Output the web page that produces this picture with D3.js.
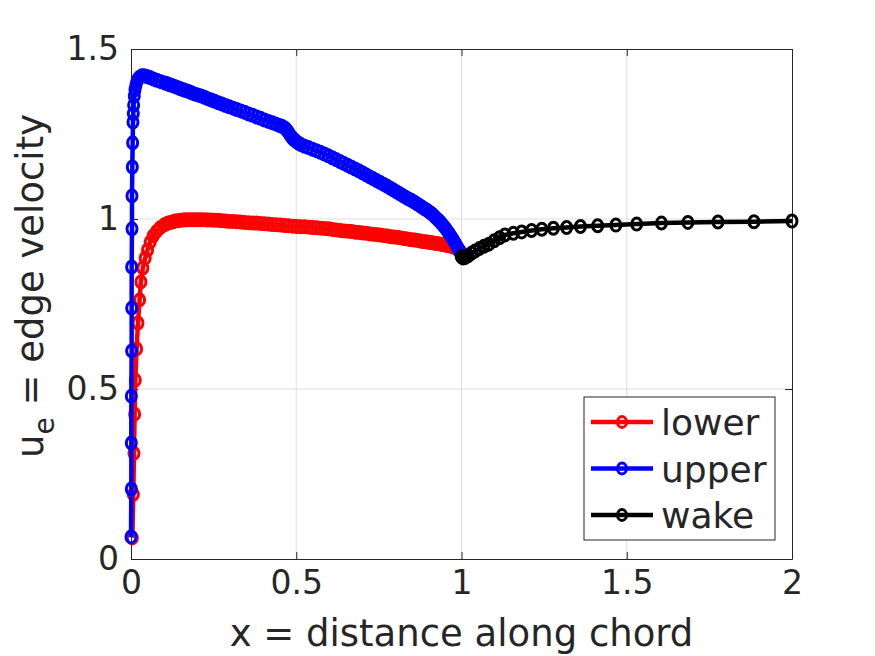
<html>
<head>
<script src="https://d3js.org/d3.v7.min.js"></script>
<style>
  body { margin: 0; background: #fff; }
  text { font-family: "DejaVu Sans", sans-serif; fill: #262626; }
</style>
</head>
<body>
<svg id="chart" width="875" height="656"></svg>
<script>
// lower surface
var lowerX = [0.004,0.007,0.009,0.011,0.013,0.017,0.021,0.026,0.030,0.036,0.043,0.050,0.058,0.067,0.077,0.088,
    0.100,0.106,0.113,0.120,0.127,0.134,0.142,0.150,0.158,0.166,0.175,0.184,0.193,0.202,0.212,0.222,0.232,0.242,0.253,0.264,
    0.275,0.286,0.297,0.308,0.320,0.331,0.343,0.355,0.367,0.379,0.391,0.403,0.415,0.427,0.440,0.452,0.464,0.476,0.489,0.501,
    0.513,0.525,0.538,0.550,0.562,0.574,0.586,0.598,0.610,0.622,0.634,0.645,0.657,0.668,0.680,0.691,0.702,0.713,0.724,0.734,
    0.745,0.755,0.766,0.776,0.786,0.795,0.805,0.814,0.824,0.833,0.842,0.850,0.859,0.867,0.875,0.883,0.890,0.898,0.905,0.911,
    0.918,0.925,0.931,0.937,0.943,0.948,0.954,0.959,0.964,0.969,0.973,0.977,0.981,0.985,0.988,0.991,0.993,0.995,0.997,0.999,1.000];
var lowerU = [0.062,0.190,0.311,0.426,0.526,0.618,0.694,0.762,0.815,0.856,0.885,0.909,0.932,0.950,0.963,0.974,
    0.982,0.985,0.988,0.990,0.992,0.994,0.995,0.996,0.997,0.998,0.998,0.998,0.998,0.998,0.998,0.998,0.997,0.997,0.996,0.996,
    0.995,0.994,0.993,0.993,0.992,0.991,0.990,0.989,0.988,0.988,0.987,0.986,0.985,0.984,0.983,0.982,0.981,0.980,0.979,0.978,
    0.977,0.977,0.976,0.975,0.974,0.973,0.972,0.971,0.969,0.968,0.966,0.965,0.964,0.963,0.961,0.960,0.959,0.958,0.956,0.955,
    0.954,0.953,0.951,0.950,0.948,0.947,0.946,0.945,0.943,0.942,0.940,0.939,0.938,0.937,0.935,0.934,0.933,0.932,0.931,0.930,
    0.929,0.928,0.927,0.926,0.925,0.924,0.923,0.922,0.921,0.920,0.919,0.918,0.916,0.914,0.912,0.910,0.908,0.906,0.903,0.900,0.898];

// upper surface
var upperX = [0.000,0.001,0.001,0.001,0.002,0.002,0.002,0.003,0.003,0.004,0.005,0.006,0.007,0.008,0.010,0.012,0.015,0.018,
    0.022,0.027,0.033,0.040,0.048,0.057,0.067,0.078,0.090,
    0.103,0.110,0.117,0.124,0.132,0.140,0.148,0.156,0.165,0.174,0.183,0.192,0.202,0.212,0.222,0.232,0.243,0.253,0.264,0.275,
    0.286,0.297,0.309,0.320,0.332,0.344,0.356,0.368,0.380,0.392,0.404,0.416,0.428,0.439,0.450,0.458,0.465,0.470,0.474,0.478,
    0.482,0.486,0.490,0.495,0.500,0.507,0.514,0.525,0.537,0.549,0.561,0.573,0.585,0.597,0.609,0.620,0.632,0.643,0.655,0.666,
    0.678,0.689,0.700,0.711,0.722,0.732,0.743,0.753,0.764,0.774,0.784,0.793,0.803,0.812,0.822,0.831,0.840,0.848,0.857,0.865,
    0.873,0.880,0.888,0.895,0.902,0.909,0.916,0.922,0.929,0.935,0.941,0.946,0.952,0.957,0.962,0.966,0.971,0.975,0.979,0.983,
    0.986,0.989,0.992,0.995,0.997,0.999,1.000];
var upperU = [0.065,0.206,0.341,0.479,0.612,0.738,0.859,0.971,1.068,1.153,1.224,1.285,1.310,1.335,1.362,1.380,1.394,1.405,
    1.413,1.418,1.421,1.421,1.419,1.416,1.412,1.408,1.404,
    1.400,1.398,1.395,1.393,1.390,1.387,1.384,1.381,1.378,1.375,1.371,1.368,1.365,1.362,1.358,1.354,1.350,1.346,1.342,1.338,
    1.334,1.330,1.326,1.322,1.318,1.314,1.309,1.305,1.300,1.296,1.291,1.287,1.283,1.279,1.275,1.272,1.268,1.263,1.258,1.252,
    1.246,1.241,1.236,1.232,1.228,1.223,1.219,1.214,1.210,1.205,1.201,1.196,1.191,1.186,1.180,1.175,1.169,1.164,1.158,1.153,
    1.147,1.142,1.136,1.130,1.124,1.119,1.113,1.108,1.102,1.097,1.091,1.086,1.080,1.075,1.069,1.064,1.059,1.055,1.050,1.045,
    1.040,1.035,1.030,1.026,1.021,1.016,1.010,1.004,0.998,0.992,0.985,0.979,0.972,0.965,0.958,0.952,0.945,0.939,0.932,0.926,
    0.920,0.915,0.909,0.904,0.899,0.895,0.892];

// wake
var wakeX = [1.000,1.005,1.012,1.020,1.030,1.041,1.054,1.068,1.083,1.099,1.115,1.131,1.157,1.182,1.212,1.243,1.278,1.318,1.360,1.412,1.467,1.530,1.605,1.685,1.776,1.885,2.000];
var wakeU = [0.889,0.885,0.887,0.892,0.899,0.906,0.913,0.920,0.926,0.936,0.945,0.953,0.958,0.962,0.966,0.970,0.973,0.975,0.978,0.980,0.982,0.985,0.988,0.990,0.991,0.992,0.994];

var seriesNames = ["lower", "upper", "wake"];
var seriesColors = ["#ff0000", "#0000ff", "#000000"];
var xTicks = [0, 0.5, 1, 1.5, 2];
var yTicks = [0, 0.5, 1, 1.5];

var svg = d3.select("#chart");
var pL = 131, pR = 792, pT = 49, pB = 559;
var x = d3.scaleLinear().domain([0, 2]).range([pL, pR]);
var y = d3.scaleLinear().domain([0, 1.5]).range([pB, pT]);

svg.append("rect").attr("width", 875).attr("height", 656).attr("fill", "#fff");

// grid
var grid = svg.append("g").attr("stroke", "#dfdfdf").attr("stroke-width", 1);
xTicks.slice(1, -1).forEach(function(t) {
    grid.append("line").attr("x1", x(t)).attr("x2", x(t)).attr("y1", pT).attr("y2", pB);
});
yTicks.slice(1, -1).forEach(function(t) {
    grid.append("line").attr("x1", pL).attr("x2", pR).attr("y1", y(t)).attr("y2", y(t));
});

// axes (ticks inside, mirrored on top/right)
var tl = 7;
svg.append("g").attr("transform", "translate(0," + pB + ")")
    .call(d3.axisBottom(x).tickValues(xTicks).tickSizeInner(-tl).tickSizeOuter(0).tickPadding(12).tickFormat(d3.format("")));
svg.append("g").attr("transform", "translate(0," + pT + ")")
    .call(d3.axisTop(x).tickValues(xTicks).tickSizeInner(-tl).tickSizeOuter(0).tickFormat(""));
svg.append("g").attr("transform", "translate(" + pL + ",0)")
    .call(d3.axisLeft(y).tickValues(yTicks).tickSizeInner(-tl).tickSizeOuter(0).tickPadding(12).tickFormat(d3.format("")));
svg.append("g").attr("transform", "translate(" + pR + ",0)")
    .call(d3.axisRight(y).tickValues(yTicks).tickSizeInner(-tl).tickSizeOuter(0).tickFormat(""));
svg.selectAll(".domain, .tick line").attr("stroke", "#262626").attr("stroke-width", 1);
svg.selectAll(".tick text").attr("font-size", 33).attr("font-family", "DejaVu Sans").attr("fill", "#262626");

// series
var series = [
    d3.zip(lowerX, lowerU),
    d3.zip(upperX, upperU),
    d3.zip(wakeX, wakeU)
];
var line = d3.line().x(function(d) { return x(d[0]); }).y(function(d) { return y(d[1]); });
series.forEach(function(pts, i) {
    var g = svg.append("g");
    g.append("path").attr("d", line(pts)).attr("fill", "none")
        .attr("stroke", seriesColors[i]).attr("stroke-width", 4.5).attr("stroke-linejoin", "round");
    g.selectAll("ellipse").data(pts).enter().append("ellipse")
        .attr("cx", function(d) { return x(d[0]); })
        .attr("cy", function(d) { return y(d[1]); })
        .attr("rx", 5)
        .attr("ry", 6)
        .attr("fill", "none")
        .attr("stroke", seriesColors[i])
        .attr("stroke-width", 3);
});

// labels
svg.append("text").attr("x", (pL + pR) / 2).attr("y", 646).attr("text-anchor", "middle")
    .attr("font-size", 37).text("x = distance along chord");
var yl = svg.append("text").attr("transform", "translate(43,286) rotate(-90)").attr("text-anchor", "middle")
    .attr("font-size", 37);
yl.append("tspan").text("u");
yl.append("tspan").attr("font-size", 28).attr("dy", 11).text("e");
yl.append("tspan").attr("dy", -11).text(" = edge velocity");

// legend
var lg = svg.append("g");
lg.append("rect").attr("x", 584).attr("y", 397).attr("width", 191).attr("height", 143)
    .attr("fill", "#fff").attr("stroke", "#262626").attr("stroke-width", 1);
seriesNames.forEach(function(name, i) {
    var ry = 422 + i * 46.5;
    lg.append("line").attr("x1", 591).attr("x2", 653).attr("y1", ry).attr("y2", ry)
        .attr("stroke", seriesColors[i]).attr("stroke-width", 4.5);
    lg.append("ellipse").attr("cx", 622).attr("cy", ry).attr("rx", 4.5).attr("ry", 5.5).attr("fill", "none")
        .attr("stroke", seriesColors[i]).attr("stroke-width", 3);
    lg.append("text").attr("x", 661).attr("y", ry + 13).attr("font-size", 36).attr("fill", "#000").text(name);
});
</script>
</body>
</html>
